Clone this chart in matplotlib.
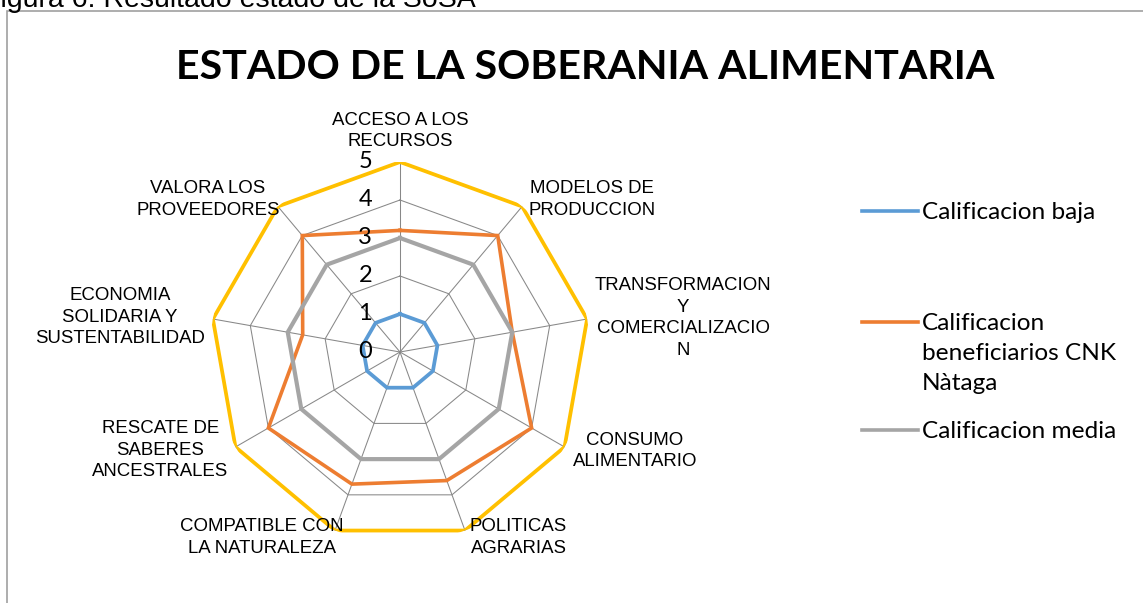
import numpy as np
import matplotlib
matplotlib.use("Agg")
import matplotlib.pyplot as plt
from matplotlib.lines import Line2D
from matplotlib.patches import Rectangle

categories = [
    "ACCESO A LOS\nRECURSOS",
    "MODELOS DE\nPRODUCCION",
    "TRANSFORMACION\nY\nCOMERCIALIZACIO\nN",
    "CONSUMO\nALIMENTARIO",
    "POLITICAS\nAGRARIAS",
    "COMPATIBLE CON\nLA NATURALEZA",
    "RESCATE DE\nSABERES\nANCESTRALES",
    "ECONOMIA\nSOLIDARIA Y\nSUSTENTABILIDAD",
    "VALORA LOS\nPROVEEDORES",
]
baja = [1, 1, 1, 1, 1, 1, 1, 1, 1]
beneficiarios = [3.2, 4.0, 3.0, 4.0, 3.6, 3.7, 4.0, 2.6, 4.0]
media = [3, 3, 3, 3, 3, 3, 3, 3, 3]
alta = [5, 5, 5, 5, 5, 5, 5, 5, 5]
r_ticks = [0, 1, 2, 3, 4, 5]

# label offsets from the outer vertex, in pixels (right, up)
label_offsets = [(0, 31, "center"), (6, 6.5, "left"), (96, 1, "center"),
                 (70.5, -4, "center"), (5, -7, "left"), (-73, -7, "center"),
                 (-75, -3, "center"), (-93, 2, "center"), (-70, 6.5, "center")]

W, H = 1143, 603
fig = plt.figure(figsize=(W / 100, H / 100), dpi=100)
fig.patch.set_facecolor("white")

# chart frame (runs off the right and bottom edge)
fig.add_artist(Rectangle((7 / W, -0.1), 2, 1 - 11 / H + 0.1, transform=fig.transFigure,
                         fill=False, edgecolor="#a0a0a0", linewidth=1.2))

fig.text(-17 / W, 1 - 7 / H, "Figura 6: Resultado estado de la SoSA",
         fontsize=20.5, family="Liberation Sans", va="baseline", ha="left")

fig.text(585 / W, 1 - 79 / H, "ESTADO DE LA SOBERANIA ALIMENTARIA",
         fontsize=29.6, family="Lato", weight="bold", ha="center", va="baseline")

cx, cy, rad = 400, 352, 190
ax = fig.add_axes([(cx - rad) / W, (H - cy - rad) / H, 2 * rad / W, 2 * rad / H],
                  projection="polar")
ax.set_theta_offset(np.pi / 2)
ax.set_theta_direction(-1)
ax.set_ylim(0, 5)
ax.grid(False)
ax.spines["polar"].set_visible(False)
ax.set_xticks([])
ax.set_yticks([])
ax.patch.set_alpha(0)

n = len(categories)
theta = np.linspace(0, 2 * np.pi, n, endpoint=False)
closed = np.append(theta, theta[0])

grid_c = "#888888"
for lvl in r_ticks[1:]:
    ax.plot(closed, [lvl] * (n + 1), color=grid_c, lw=0.75, zorder=1)
for t in theta:
    ax.plot([t, t], [0, 5], color=grid_c, lw=0.75, zorder=1)

series = [
    (baja, "#5b9bd5", "Calificacion baja", 2.7),
    (beneficiarios, "#ed7d31", "Calificacion\nbeneficiarios CNK\nNàtaga", 2.6),
    (media, "#a5a5a5", "Calificacion media", 3.0),
    (alta, "#ffc000", None, 2.7),
]
for vals, col, lab, lw in series:
    ax.plot(closed, np.append(vals, vals[0]), color=col, lw=lw, zorder=3,
            solid_joinstyle="miter")

for v in r_ticks:
    ax.annotate(str(v), xy=(0, v), xytext=(-28 * 0.72, 0), textcoords="offset points",
                ha="right", va="center", fontsize=17, family="Lato", zorder=5,
                annotation_clip=False)

for t, lab, (dx, dy, ha) in zip(theta, categories, label_offsets):
    ax.annotate(lab, xy=(t, 5), xytext=(dx * 0.72, dy * 0.72), textcoords="offset points",
                ha=ha, va="center", multialignment="center", fontsize=13.4,
                family="Liberation Sans", linespacing=1.38, annotation_clip=False)

# legend
leg_y = [211, 322, 430]
for (vals, col, lab, lw), y in zip(series[:3], leg_y):
    fig.add_artist(Line2D([862 / W, 918 / W], [1 - y / H, 1 - y / H],
                          transform=fig.transFigure, color=col, lw=2.6))
    if "\n" in lab:
        fig.text(922 / W, 1 - (y - 9) / H, lab, fontsize=17.6, family="Lato",
                 ha="left", va="top", linespacing=1.53)
    else:
        fig.text(922 / W, 1 - (y + 8) / H, lab, fontsize=17.6, family="Lato",
                 ha="left", va="baseline")

fig.savefig("out.png", dpi=100)
